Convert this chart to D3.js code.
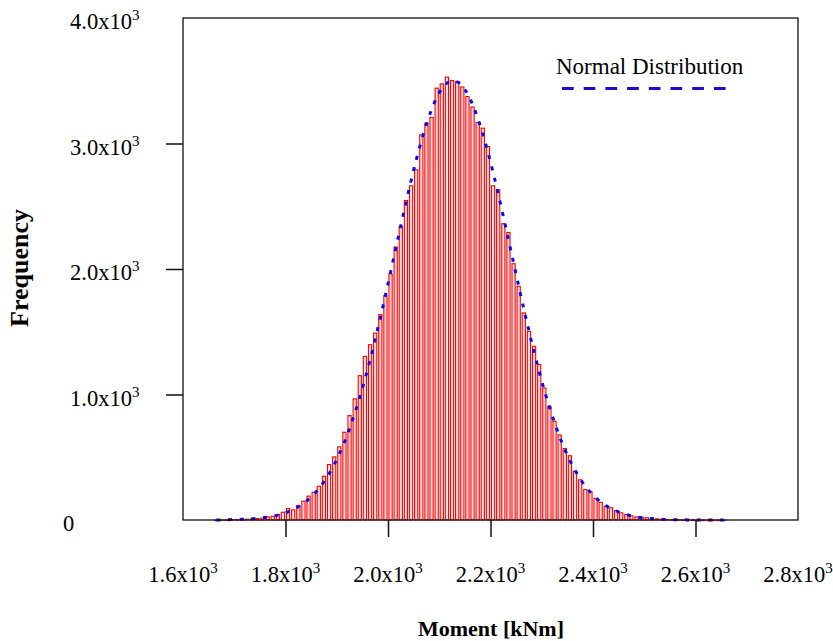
<!DOCTYPE html>
<html>
<head>
<meta charset="utf-8">
<script src="https://cdn.jsdelivr.net/npm/d3@7"></script>
<style>
  body { margin: 0; background: #fff; }
  text { font-family: "Liberation Serif", "Times New Roman", serif; }
</style>
</head>
<body>
<script>
// histogram of moment + fitted normal curve

// bin centres [kNm], 10 kNm bins
var binCenters = [1665, 1675, 1685, 1695, 1705, 1715, 1725, 1735, 1745, 1755,
	1765, 1775, 1785, 1795, 1805, 1815, 1825, 1835, 1845, 1855,
	1865, 1875, 1885, 1895, 1905, 1915, 1925, 1935, 1945, 1955,
	1965, 1975, 1985, 1995, 2005, 2015, 2025, 2035, 2045, 2055,
	2065, 2075, 2085, 2095, 2105, 2115, 2125, 2135, 2145, 2155,
	2165, 2175, 2185, 2195, 2205, 2215, 2225, 2235, 2245, 2255,
	2265, 2275, 2285, 2295, 2305, 2315, 2325, 2335, 2345, 2355,
	2365, 2375, 2385, 2395, 2405, 2415, 2425, 2435, 2445, 2455,
	2465, 2475, 2485, 2495, 2505, 2515, 2525, 2535, 2545, 2555,
	2565, 2575, 2585, 2595, 2605, 2615, 2625, 2635, 2645, 2655];

// bar heights (frequency)
var counts = [0, 1, 1, 3, 3, 8, 6, 10, 12, 15,
	25, 30, 44, 62, 92, 81, 115, 150, 190, 221,
	269, 349, 442, 503, 583, 699, 832, 965, 1150, 1304,
	1397, 1490, 1636, 1787, 1962, 2175, 2339, 2546, 2663, 2790,
	3069, 3162, 3207, 3441, 3475, 3529, 3502, 3494, 3450, 3374,
	3290, 3167, 3122, 2976, 2663, 2631, 2361, 2291, 2042, 1862,
	1650, 1503, 1384, 1238, 1052, 906, 787, 678, 570, 512,
	389, 320, 243, 225, 173, 141, 110, 97, 75, 57,
	44, 33, 25, 22, 18, 12, 9, 6, 4, 3,
	2, 2, 1, 1, 0, 0, 0, 0, 0, 0];

// dashed normal distribution, read at the same centres
var normalCurve = [1, 1, 2, 3, 4, 5, 7, 10, 13, 17,
	23, 30, 39, 50, 65, 83, 105, 132, 164, 203,
	250, 304, 368, 441, 526, 621, 728, 848, 979, 1121,
	1275, 1439, 1611, 1790, 1974, 2160, 2345, 2527, 2702, 2867,
	3019, 3154, 3270, 3365, 3436, 3481, 3499, 3491, 3457, 3396,
	3311, 3203, 3075, 2930, 2770, 2598, 2419, 2234, 2049, 1864,
	1682, 1507, 1339, 1182, 1034, 898, 775, 662, 562, 474,
	396, 328, 270, 221, 179, 144, 115, 91, 72, 56,
	43, 33, 25, 19, 14, 11, 8, 6, 4, 3,
	2, 2, 1, 1, 0, 0, 0, 0, 0, 0];

var xTicks = [1600, 1800, 2000, 2200, 2400, 2600, 2800],
	xTickLabels = ['1.6', '1.8', '2.0', '2.2', '2.4', '2.6', '2.8'];
var yTicks = [0, 1000, 2000, 3000, 4000],
	yTickLabels = ['0', '1.0', '2.0', '3.0', '4.0'];

var width = 833,
	height = 641,
	plotLeft = 183, plotRight = 798, plotTop = 18, plotBottom = 520;

var svg = d3.select('body').append('svg')
	.attr('width', width)
	.attr('height', height);

var x = d3.scaleLinear()
	.domain([1600, 2800])
	.range([plotLeft, plotRight]);

var y = d3.scaleLinear()
	.domain([0, 4000])
	.range([plotBottom, plotTop]);

// bars
var bins = binCenters.map(function(c, i){ return {c: c, v: counts[i], n: normalCurve[i]}; });

svg.selectAll('.bar')
	.data(bins)
	.enter().append('rect').classed('bar', true)
	.attr('x', function(d){ return x(d.c) - 1.6; })
	.attr('y', function(d){ return y(d.v); })
	.attr('width', 3.2)
	.attr('height', function(d){ return Math.max(0.6, y(0) - y(d.v)); })
	.attr('fill', '#ffdede')
	.attr('stroke', '#ff0000')
	.attr('stroke-width', 1.1);

// normal curve
var line = d3.line()
	.x(function(d){ return x(d.c); })
	.y(function(d){ return y(d.n); })
	.curve(d3.curveMonotoneX);

svg.append('path')
	.datum(bins)
	.attr('d', line)
	.attr('fill', 'none')
	.attr('stroke', '#0a0aee')
	.attr('stroke-width', 3)
	.attr('stroke-dasharray', '4,7.7');

// axes
var xAxis = svg.append('g')
	.attr('transform', 'translate(0,' + plotBottom + ')')
	.call(d3.axisBottom(x).tickValues(xTicks).tickSizeInner(17).tickSizeOuter(0).tickFormat(''));

var yAxis = svg.append('g')
	.attr('transform', 'translate(' + plotLeft + ',0)')
	.call(d3.axisLeft(y).tickValues(yTicks).tickSizeInner(17).tickSizeOuter(0).tickFormat(''));

xAxis.select('.domain').remove();
yAxis.select('.domain').remove();
xAxis.selectAll('.tick line').attr('stroke', '#111').attr('stroke-width', 1.5);
yAxis.selectAll('.tick line').attr('stroke', '#111').attr('stroke-width', 1.5);
// end ticks sit on the frame, not drawn
xAxis.selectAll('.tick').filter(function(d){ return d == 1600 || d == 2800; }).select('line').remove();
yAxis.selectAll('.tick').filter(function(d){ return d == 0 || d == 4000; }).select('line').remove();

// frame
svg.append('rect')
	.attr('x', plotLeft)
	.attr('y', plotTop)
	.attr('width', plotRight - plotLeft)
	.attr('height', plotBottom - plotTop)
	.attr('fill', 'none')
	.attr('stroke', '#111')
	.attr('stroke-width', 1.3);

// tick labels with x10^3
function sciLabel(sel, mant){
	if (mant == '0') { sel.text('0'); return; }
	sel.append('tspan').text(mant + 'x10');
	sel.append('tspan').text('3').attr('dy', -9).attr('font-size', 15);
}

xTicks.forEach(function(t, i){
	svg.append('text')
		.attr('x', x(t))
		.attr('y', 582)
		.attr('text-anchor', 'middle')
		.attr('font-size', 22.5)
		.call(sciLabel, xTickLabels[i]);
});

yTicks.forEach(function(t, i){
	svg.append('text')
		.attr('x', t == 0 ? 63 : 70)
		.attr('y', y(t) + 11)
		.attr('font-size', 22.5)
		.call(sciLabel, yTickLabels[i]);
});

// axis titles
svg.append('text')
	.attr('transform', 'translate(28,268) rotate(-90)')
	.attr('text-anchor', 'middle')
	.attr('font-size', 26)
	.attr('font-weight', 'bold')
	.text('Frequency');

svg.append('text')
	.attr('x', 491)
	.attr('y', 636)
	.attr('text-anchor', 'middle')
	.attr('font-size', 22)
	.attr('font-weight', 'bold')
	.text('Moment [kNm]');

// legend
svg.append('text')
	.attr('x', 556)
	.attr('y', 74)
	.attr('font-size', 23)
	.text('Normal Distribution');

svg.append('line')
	.attr('x1', 562)
	.attr('x2', 735)
	.attr('y1', 88.5)
	.attr('y2', 88.5)
	.attr('stroke', '#1a10cc')
	.attr('stroke-width', 3)
	.attr('stroke-dasharray', '11.7,10');
</script>
</body>
</html>
